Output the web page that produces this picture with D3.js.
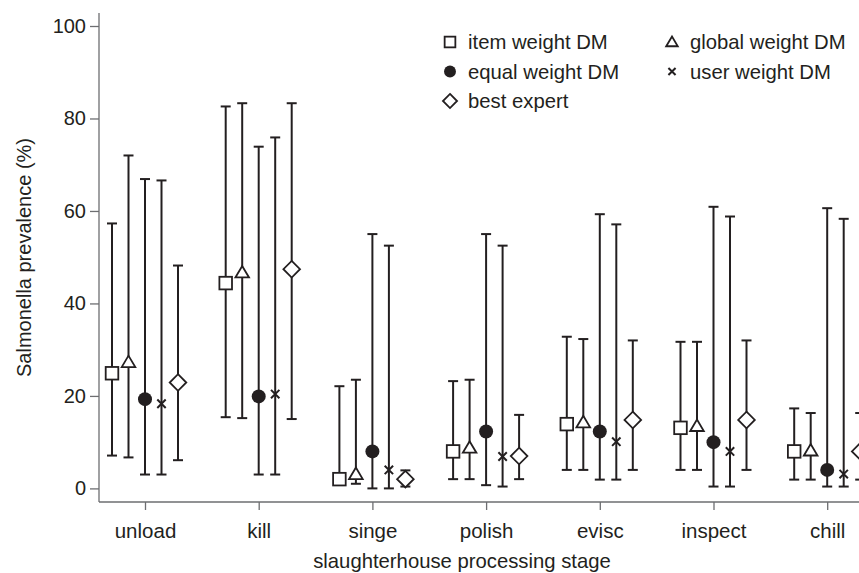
<!DOCTYPE html>
<html>
<head>
<meta charset="utf-8">
<script src="https://cdn.jsdelivr.net/npm/d3@7"></script>
<style>
  html, body { margin: 0; padding: 0; background: #fff; }
  svg { display: block; font-family: "Liberation Sans", Arial, Helvetica, sans-serif; }
</style>
</head>
<body>
<div id="chart"></div>
<script>
// stages along the x axis
const STAGES = ['unload', 'kill', 'singe', 'polish', 'evisc', 'inspect', 'chill'];

// series, in drawing order within each stage
const SERIES = ['item', 'global', 'equal', 'user', 'expert'];
const SERIES_LABELS = {
  item: 'item weight DM', global: 'global weight DM', equal: 'equal weight DM',
  user: 'user weight DM', expert: 'best expert',
};

// median estimates per stage (%)
const item_mid   = [24.9, 44.4,  2.0,  8.0, 13.9, 13.1,  8.0];
const global_mid = [27.3, 46.7,  3.1,  8.8, 14.3, 13.5,  8.2];
const equal_mid  = [19.3, 19.9,  8.0, 12.3, 12.3, 10.0,  4.0];
const user_mid   = [18.3, 20.4,  4.0,  6.9, 10.1,  8.0,  3.1];
const expert_mid = [22.9, 47.4,  2.0,  7.0, 14.8, 14.8,  8.0];

// lower bounds (%)
const item_lo   = [ 7.1, 15.4, 1.0, 2.0, 4.0, 4.0, 1.9];
const global_lo = [ 6.7, 15.2, 1.0, 2.0, 4.0, 4.0, 1.9];
const equal_lo  = [ 3.0,  3.0, 0.0, 0.7, 1.9, 0.4, 0.4];
const user_lo   = [ 3.0,  3.0, 0.0, 0.4, 1.9, 0.4, 0.4];
const expert_lo = [ 6.1, 15.0, 0.4, 2.0, 4.0, 4.0, 1.9];

// upper bounds (%)
const item_hi   = [57.3, 82.6, 22.1, 23.2, 32.8, 31.7, 17.3];
const global_hi = [72.0, 83.3, 23.5, 23.5, 32.3, 31.7, 16.3];
const equal_hi  = [66.9, 73.9, 55.0, 55.0, 59.3, 60.9, 60.6];
const user_hi   = [66.6, 75.9, 52.5, 52.5, 57.1, 58.8, 58.3];
const expert_hi = [48.2, 83.3,  3.9, 15.9, 32.0, 32.0, 16.3];

const Y_TICKS = [0, 20, 40, 60, 80, 100];

const MID = { item: item_mid, global: global_mid, equal: equal_mid, user: user_mid, expert: expert_mid };
const LO  = { item: item_lo,  global: global_lo,  equal: equal_lo,  user: user_lo,  expert: expert_lo };
const HI  = { item: item_hi,  global: global_hi,  equal: equal_hi,  user: user_hi,  expert: expert_hi };

const rows = [];
STAGES.forEach((stage, i) => {
  SERIES.forEach(s => {
    rows.push({ stage, series: s, mid: MID[s][i], lo: LO[s][i], hi: HI[s][i] });
  });
});

const W = 859, H = 573;
const ink = '#231f20';
const axisCol = '#6d6e71';

const svg = d3.select('#chart').append('svg')
  .attr('width', W).attr('height', H);

// scales
const x = d3.scalePoint().domain(STAGES).range([145, 827.2]);
const dx = d3.scalePoint().domain(SERIES).range([-33, 33]);
const y = d3.scaleLinear().domain([0, 100]).range([488.4, 26]);

// y axis
const yAx = svg.append('g').attr('transform', 'translate(99,0)');
yAx.call(d3.axisLeft(y).tickValues(Y_TICKS).tickSize(9).tickPadding(4))
  .call(g => g.select('.domain').remove());
yAx.append('line').attr('x1', 0).attr('x2', 0).attr('y1', 13).attr('y2', 502);
yAx.selectAll('line').attr('stroke', axisCol).attr('stroke-width', 1.3);
yAx.selectAll('text').attr('font-size', 20).attr('fill', ink)
  .attr('font-family', '"Liberation Sans", Arial, sans-serif');

// x axis
const xAx = svg.append('g').attr('transform', 'translate(0,502)');
xAx.call(d3.axisBottom(x).tickSize(8).tickPadding(13))
  .call(g => g.select('.domain').remove());
xAx.append('line').attr('x1', 99).attr('x2', W).attr('y1', 0).attr('y2', 0);
xAx.selectAll('line').attr('stroke', axisCol).attr('stroke-width', 1.3);
xAx.selectAll('text').attr('font-size', 20.5).attr('fill', ink)
  .attr('font-family', '"Liberation Sans", Arial, sans-serif');

// axis titles
svg.append('text')
  .attr('transform', `translate(31,${(13 + 502) / 2}) rotate(-90)`)
  .attr('text-anchor', 'middle').attr('font-size', 20).attr('fill', ink)
  .text('Salmonella prevalence (%)');

svg.append('text')
  .attr('x', 462).attr('y', 568)
  .attr('text-anchor', 'middle').attr('font-size', 20.3).attr('fill', ink)
  .text('slaughterhouse processing stage');

// error bars
const cap = 5;
const bars = svg.append('g').attr('stroke', ink).attr('stroke-width', 2).attr('fill', 'none');
rows.forEach(d => {
  const cx = x(d.stage) + dx(d.series);
  bars.append('line').attr('x1', cx).attr('x2', cx).attr('y1', y(d.lo)).attr('y2', y(d.hi));
  bars.append('line').attr('x1', cx - cap).attr('x2', cx + cap).attr('y1', y(d.lo)).attr('y2', y(d.lo));
  bars.append('line').attr('x1', cx - cap).attr('x2', cx + cap).attr('y1', y(d.hi)).attr('y2', y(d.hi));
});

// marker shapes
function marker(g, s, k) {
  if (s === 'item') {
    g.append('rect').attr('x', -6.3 * k).attr('y', -6.3 * k).attr('width', 12.6 * k).attr('height', 12.6 * k)
      .attr('fill', '#fff').attr('stroke', ink).attr('stroke-width', 1.8);
  } else if (s === 'global') {
    g.append('path').attr('d', d3.line()([[-6.8 * k, 5 * k], [0, -6.5 * k], [6.8 * k, 5 * k]]) + 'Z')
      .attr('fill', '#fff').attr('stroke', ink).attr('stroke-width', 1.8);
  } else if (s === 'equal') {
    g.append('circle').attr('r', 7 * k).attr('fill', ink);
  } else if (s === 'user') {
    const a = 4.2 * k;
    g.append('path').attr('d', `M${-a},${-a}L${a},${a}M${-a},${a}L${a},${-a}`)
      .attr('stroke', ink).attr('stroke-width', 2);
  } else {
    const a = 8.3 * k;
    g.append('path').attr('d', d3.line()([[0, -a], [a, 0], [0, a], [-a, 0]]) + 'Z')
      .attr('fill', '#fff').attr('stroke', ink).attr('stroke-width', 1.8);
  }
}

const pts = svg.append('g');
rows.forEach(d => {
  const g = pts.append('g')
    .attr('transform', `translate(${x(d.stage) + dx(d.series)},${y(d.mid)})`);
  marker(g, d.series, 1);
});

// legend
const LEGEND = [
  { s: 'item',   col: 0, row: 0 },
  { s: 'global', col: 1, row: 0 },
  { s: 'equal',  col: 0, row: 1 },
  { s: 'user',   col: 1, row: 1 },
  { s: 'expert', col: 0, row: 2 },
];
const lg = svg.append('g');
LEGEND.forEach(d => {
  const gx = 450 + d.col * 222, gy = 42 + d.row * 29.5;
  const g = lg.append('g').attr('transform', `translate(${gx},${gy})`);
  marker(g, d.s, 0.85);
  g.append('text').attr('x', 18).attr('y', 7).attr('font-size', 20.3).attr('fill', ink)
    .text(SERIES_LABELS[d.s]);
});
</script>
</body>
</html>
